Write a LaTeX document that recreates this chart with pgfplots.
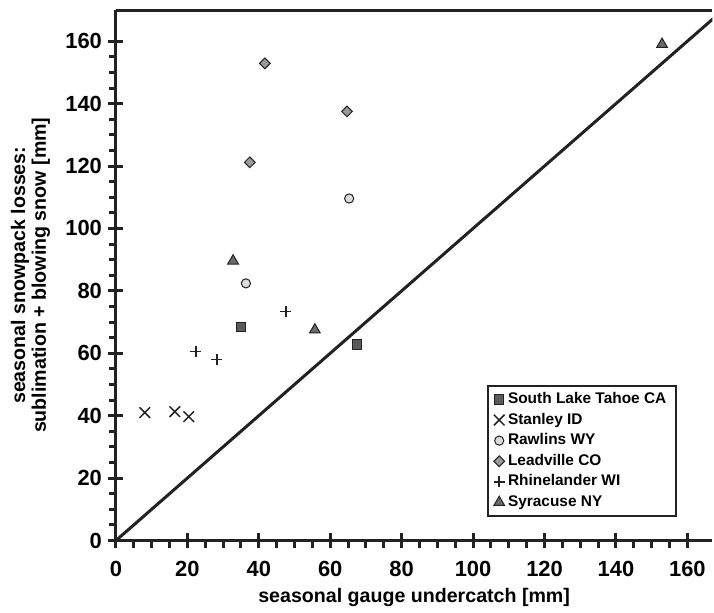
\documentclass[border=0pt]{standalone}
\usepackage{fontspec}
\setmainfont{Liberation Sans}
\usepackage{pgfplots}
\pgfplotsset{compat=1.18}
\definecolor{sqfill}{HTML}{5A5A5A}
\definecolor{dmfill}{HTML}{9A9A9A}
\definecolor{cifill}{HTML}{DCDCDC}
\definecolor{trfill}{HTML}{6A6A6A}
\definecolor{edge}{HTML}{222222}
\begin{document}
\begin{tikzpicture}
\begin{axis}[
  scale only axis,
  width=597bp, height=531bp,
  xmin=0, xmax=167, ymin=0, ymax=170,
  axis x line*=bottom, axis y line*=left,
  axis line style={-, line width=3.2bp, color=edge},
  xtick={0,20,...,160}, ytick={0,20,...,160},
  minor x tick num=3, minor y tick num=3,
  tick align=center,
  major tick length=15bp, minor tick length=7bp,
  every tick/.style={line width=3bp, color=edge},
  minor x tick style={yshift=-3.5bp},
  minor y tick style={xshift=-3.5bp},
  tick label style={font=\bfseries\fontsize{22}{22}\selectfont},
  xticklabel style={yshift=-10bp},
  yticklabel style={xshift=-3bp},
  /pgf/number format/assume math mode=true,
  xlabel={\bfseries seasonal gauge undercatch [mm]},
  ylabel={\bfseries\begin{tabular}{c}seasonal snowpack losses:\\[-1bp]sublimation + blowing snow [mm]\end{tabular}},
  label style={font=\bfseries\fontsize{19.7}{22}\selectfont},
  xlabel style={yshift=-4bp},
  ylabel style={yshift=6bp},
  legend cell align=left,
  legend style={at={(0.94,0.045)}, anchor=south east, draw=edge, line width=2bp,
    font=\bfseries\fontsize{15.5}{16}\selectfont, row sep=0pt,
    inner xsep=6bp, inner ysep=3bp,
    nodes={inner sep=3.3bp, text height=11bp, text depth=3bp}},
  legend image code/.code={\draw[mark repeat=2,mark phase=2] plot coordinates {(0bp,0bp)(4bp,0bp)(8bp,0bp)};},
]
\addplot[only marks, mark=square*, mark size=4.6bp, mark options={fill=sqfill, draw=edge, line width=1bp}]
  coordinates {(35.0,68.3) (67.5,62.8)};
\addlegendentry{South Lake Tahoe CA}
\addplot[only marks, mark=x, mark size=7.5bp, mark options={draw=edge, line width=1.5bp}]
  coordinates {(8.1,41.0) (16.5,41.3) (20.4,39.7)};
\addlegendentry{Stanley ID}
\addplot[only marks, mark=*, mark size=4.6bp, mark options={fill=cifill, draw=edge, line width=1bp}]
  coordinates {(65.3,109.6) (36.4,82.4)};
\addlegendentry{Rawlins WY}
\addplot[only marks, mark=square*, mark size=3.8bp, mark options={rotate=45, fill=dmfill, draw=edge, line width=1bp}]
  coordinates {(41.7,152.9) (64.7,137.5) (37.5,121.2)};
\addlegendentry{Leadville CO}
\addplot[only marks, mark=+, mark size=5.5bp, mark options={draw=edge, line width=1.5bp}]
  coordinates {(22.4,60.6) (28.3,58.0) (47.6,73.4)};
\addlegendentry{Rhinelander WI}
\addplot[only marks, mark=triangle*, mark size=6.2bp, mark options={fill=trfill, draw=edge, line width=1bp}]
  coordinates {(32.8,89.6) (55.7,67.5) (152.9,159.0)};
\addlegendentry{Syracuse NY}
\addplot[edge, line width=3bp, forget plot] coordinates {(0,0) (175,175)};
\draw[edge, line width=3.2bp] (rel axis cs:0,1) -- (rel axis cs:1,1);
\end{axis}
\path (current axis.south west) ++(-116bp,-72bp) rectangle ++(714bp,613bp);
\end{tikzpicture}
\end{document}
